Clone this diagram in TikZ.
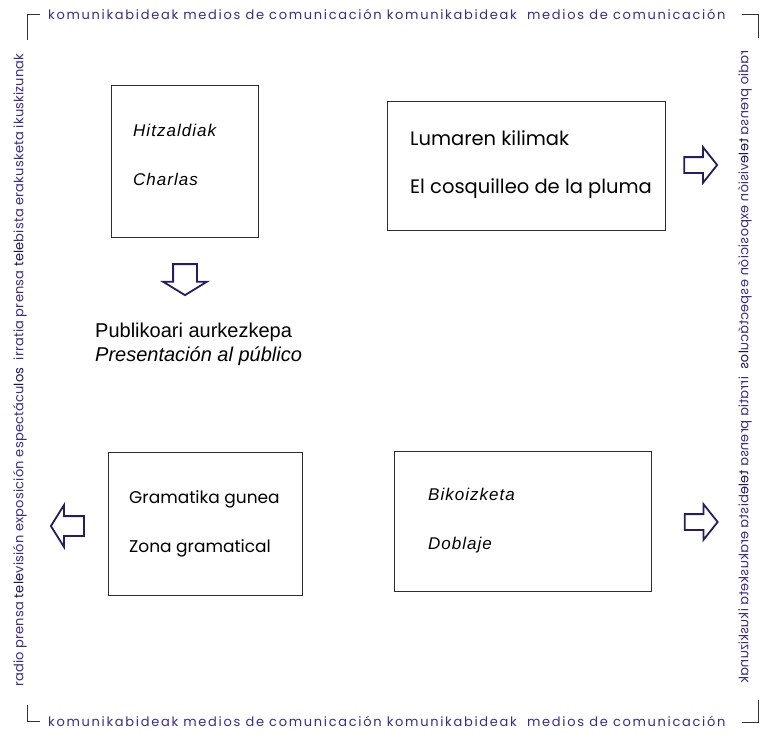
\documentclass[tikz,border=0pt]{standalone}
\usepackage{fontspec}
\setmainfont{Liberation Sans}
\newfontfamily\gothic{Poppins}
\newfontfamily\gothicwide[LetterSpace=13]{Poppins}
\newfontfamily\gothicside[LetterSpace=1.5]{Poppins}
\newfontfamily\spaced[LetterSpace=6]{Liberation Sans}
\usetikzlibrary{positioning,shapes.arrows}
\definecolor{rim}{RGB}{60,42,140}
\definecolor{rimdark}{RGB}{28,16,88}
\definecolor{navy}{RGB}{40,28,96}
\definecolor{boxline}{RGB}{45,45,45}
\tikzset{
    mybox/.style={rectangle, draw=boxline, line width=0.9pt, anchor=north west, inner sep=0pt},
    lbl/.style={anchor=base west, inner sep=0pt, font=\gothic\fontsize{17}{20}\selectfont},
    lblbig/.style={lbl, font=\gothic\fontsize{19.5}{22}\selectfont},
    lblit/.style={anchor=base west, inner sep=0pt, font=\spaced\itshape\fontsize{17}{20}\selectfont},
    publbl/.style={anchor=base west, inner sep=0pt, font=\fontsize{20}{24}\selectfont},
    rimtext/.style={anchor=west, inner sep=0pt, text=rim, font=\gothicwide\fontsize{13}{15}\selectfont},
    sidetext/.style={inner sep=0pt, text=rim, font=\gothicside\fontsize{13}{15}\selectfont},
    pil/.style={single arrow, draw=navy, line width=1.8pt, fill=white, inner xsep=0pt, single arrow head indent=0pt},
    rimline/.style={draw=black!80, line width=0.8pt}
}
\newcommand{\tlpart}{\textcolor{rimdark}{tele}}
\newcommand{\sidewords}{radio prensa \tlpart visión exposición espectácu\textcolor{rimdark}{los}\ \ irratia prensa \tlpart bista erakusketa ikuskizunak}

\begin{document}
\begin{tikzpicture}[x=1pt, y=-1pt]
    \useasboundingbox (0,0) rectangle (762,733);
    % frame corners
    \draw[rimline] (27,40) |- (40,14);
    \draw[rimline] (742,14) -| (758,38);
    \draw[rimline] (27,705) |- (40,721);
    \draw[rimline] (742,722) -| (758,700);
    % frame texts
    \node[rimtext] (toprim) at (48,14)
      {komunikabideak medios de comunicación komunikabideak\ \ medios de comunicación};
    \node[rimtext] (bottomrim) at (48,721)
      {komunikabideak medios de comunicación komunikabideak\ \ medios de comunicación};
    \node[sidetext, rotate=90] (leftrim) at (20,370) {\sidewords};
    \node[sidetext, rotate=90, xscale=-1] (rightrim) at (745,367) {\sidewords};

    % boxes
    \node[mybox, minimum width=147pt, minimum height=152pt] (charlas) at (111,85) {};
    \node[lblit] (charlas1) at (133,136) {Hitzaldiak};
    \node[lblit] (charlas2) at (133,185) {Charlas};

    \node[mybox, minimum width=278pt, minimum height=129pt] (pluma) at (387,101) {};
    \node[lblbig] (pluma1) at (410,145) {Lumaren kilimak};
    \node[lblbig] (pluma2) at (410,193) {El cosquilleo de la pluma};

    \node[mybox, minimum width=194pt, minimum height=143pt] (zona) at (108,452) {};
    \node[lbl] (zona1) at (129,503) {Gramatika gunea};
    \node[lbl] (zona2) at (129,552) {Zona gramatical};

    \node[mybox, minimum width=257pt, minimum height=140pt] (doblaje) at (394,451) {};
    \node[lblit] (doblaje1) at (428,500) {Bikoizketa};
    \node[lblit] (doblaje2) at (428,549) {Doblaje};

    % presentation
    \node[publbl] (publiko1) at (95,337) {Publikoari aurkezkepa};
    \node[publbl, font=\itshape\fontsize{20}{24}\selectfont] (publiko2) at (95,361) {Presentación al público};

    % arrows
    \node[pil, rotate=-90, minimum height=31pt, inner ysep=11pt, single arrow head extend=10pt,
      single arrow tip angle=117] (downpil) at (185,276) {};
    \node[pil, minimum height=33pt, inner ysep=7pt, single arrow head extend=10pt,
      single arrow tip angle=103] (plumapil) at (697.5,165) {};
    \node[pil, minimum height=33pt, inner ysep=7pt, single arrow head extend=10pt,
      single arrow tip angle=103] (doblajepil) at (698,522) {};
    \node[pil, rotate=180, minimum height=33pt, inner ysep=9pt, single arrow head extend=11pt,
      single arrow tip angle=116] (zonapil) at (70.5,526) {};
\end{tikzpicture}
\end{document}
